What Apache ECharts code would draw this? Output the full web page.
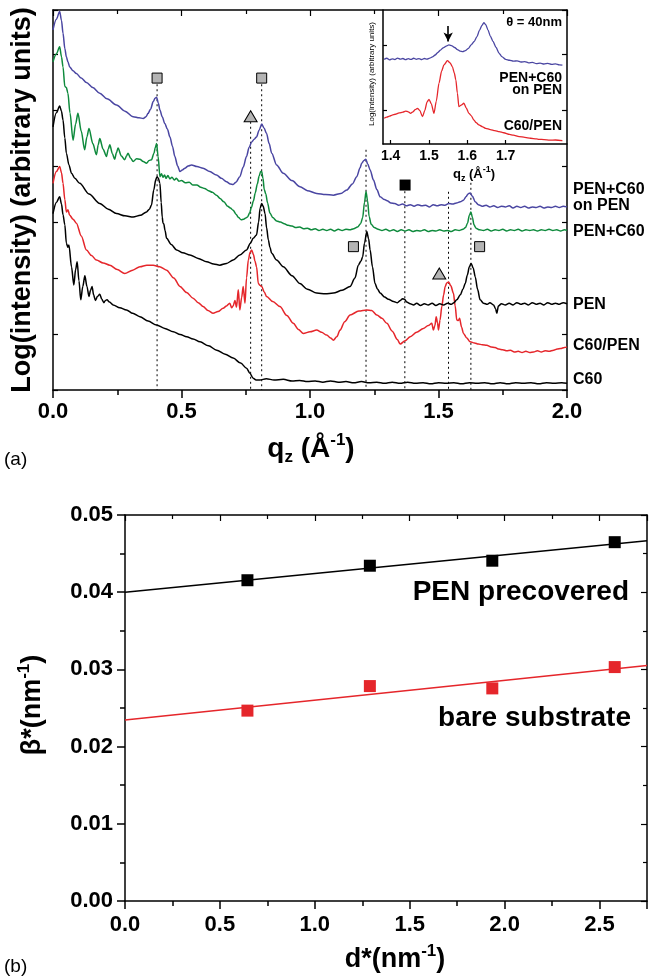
<!DOCTYPE html>
<html>
<head>
<meta charset="utf-8">
<script src="https://cdn.jsdelivr.net/npm/echarts@6/dist/echarts.min.js"></script>
<style>
  html, body { margin: 0; padding: 0; background: #fff; }
  #chart { width: 650px; height: 980px; }
</style>
</head>
<body>
<div id="chart"></div>
<script>
// ---------- (a) specular X-ray reflectivity, log intensity vs q_z (Å^-1), curves offset vertically ----------
const qTicksMain = [0.0, 0.5, 1.0, 1.5, 2.0];

const curvePenC60OnPen = [
  [0,6.43],[0.013,6.62],[0.026,6.76],[0.033,6.6],[0.039,6.37],[0.046,6.1],[0.052,5.95],[0.058,5.86],[0.065,5.77],
  [0.078,5.70],[0.091,5.65],[0.11,5.57],[0.13,5.49],[0.155,5.40],[0.182,5.30],[0.21,5.20],[0.247,5.09],[0.28,4.98],
  [0.312,4.88],[0.335,4.86],[0.351,4.85],[0.362,4.88],[0.37,4.94],[0.38,5.02],[0.39,5.15],[0.397,5.21],[0.403,5.23],
  [0.41,5.12],[0.416,5.0],[0.425,4.88],[0.435,4.76],[0.445,4.66],[0.455,4.52],[0.465,4.35],[0.474,4.17],[0.485,4.0],
  [0.494,3.90],[0.503,3.93],[0.513,3.96],[0.526,4.0],[0.539,4.02],[0.56,3.99],[0.584,3.96],[0.61,3.90],[0.636,3.84],
  [0.655,3.78],[0.675,3.72],[0.69,3.68],[0.701,3.67],[0.712,3.71],[0.727,3.81],[0.74,3.98],[0.753,4.17],[0.763,4.33],
  [0.773,4.43],[0.783,4.48],[0.792,4.52],[0.802,4.64],[0.812,4.75],[0.821,4.68],[0.831,4.58],[0.841,4.40],[0.851,4.23],
  [0.87,4.02],[0.896,3.87],[0.93,3.74],[0.961,3.63],[0.99,3.56],[1.026,3.51],[1.06,3.49],[1.091,3.48],[1.12,3.51],
  [1.143,3.57],[1.165,3.68],[1.182,3.81],[1.195,3.97],[1.201,4.05],[1.21,4.10],[1.217,4.12],[1.225,4.03],[1.234,3.93],
  [1.247,3.75],[1.26,3.58],[1.273,3.45],[1.29,3.40],[1.30,3.38],[1.315,3.34],[1.33,3.33],[1.345,3.30],[1.36,3.32],
  [1.375,3.29],[1.39,3.31],[1.405,3.28],[1.42,3.31],[1.435,3.29],[1.45,3.30],[1.465,3.27],[1.48,3.31],[1.495,3.29],
  [1.51,3.31],[1.525,3.30],[1.54,3.33],[1.555,3.32],[1.57,3.34],[1.585,3.36],[1.597,3.39],[1.607,3.45],[1.615,3.50],
  [1.623,3.52],[1.632,3.46],[1.643,3.36],[1.655,3.31],[1.67,3.28],[1.685,3.30],[1.70,3.27],[1.715,3.29],[1.73,3.26],
  [1.745,3.28],[1.76,3.27],[1.775,3.29],[1.79,3.25],[1.805,3.28],[1.82,3.26],[1.835,3.28],[1.85,3.25],[1.865,3.27],
  [1.88,3.26],[1.895,3.28],[1.91,3.25],[1.925,3.27],[1.94,3.26],[1.955,3.28],[1.97,3.26],[1.985,3.28],[2.0,3.27]
];

const curvePenC60 = [
  [0,5.86],[0.013,6.0],[0.026,6.13],[0.033,5.95],[0.039,5.77],[0.046,5.42],[0.052,5.40],[0.058,5.30],[0.066,4.95],
  [0.078,4.46],[0.088,4.75],[0.097,4.94],[0.11,4.62],[0.123,4.29],[0.132,4.52],[0.140,4.67],[0.155,4.40],[0.169,4.20],
  [0.176,4.38],[0.182,4.49],[0.195,4.30],[0.208,4.17],[0.215,4.30],[0.221,4.38],[0.231,4.22],[0.240,4.12],[0.247,4.24],
  [0.253,4.32],[0.266,4.18],[0.279,4.11],[0.286,4.18],[0.292,4.23],[0.302,4.14],[0.312,4.08],[0.325,4.13],[0.338,4.12],
  [0.351,4.08],[0.364,4.05],[0.374,4.10],[0.383,4.11],[0.393,4.23],[0.398,4.33],[0.403,4.40],[0.409,4.17],[0.416,3.81],
  [0.422,3.86],[0.428,3.80],[0.434,3.84],[0.44,3.78],[0.447,3.83],[0.455,3.77],[0.463,3.80],[0.472,3.75],[0.48,3.78],
  [0.49,3.73],[0.50,3.74],[0.515,3.70],[0.53,3.71],[0.545,3.66],[0.56,3.66],[0.575,3.62],[0.59,3.60],[0.605,3.56],
  [0.62,3.53],[0.636,3.48],[0.65,3.42],[0.665,3.36],[0.68,3.28],[0.69,3.25],[0.701,3.21],[0.712,3.14],[0.722,3.08],
  [0.732,3.04],[0.742,3.05],[0.75,3.07],[0.757,3.09],[0.765,3.16],[0.772,3.26],[0.78,3.38],[0.787,3.52],[0.795,3.68],
  [0.802,3.82],[0.808,3.90],[0.812,3.90],[0.817,3.78],[0.822,3.58],[0.828,3.50],[0.835,3.34],[0.844,3.16],[0.855,3.08],
  [0.87,3.02],[0.885,3.00],[0.9,2.97],[0.915,2.94],[0.93,2.93],[0.945,2.90],[0.96,2.91],[0.975,2.88],[0.99,2.89],
  [1.005,2.86],[1.02,2.88],[1.035,2.85],[1.05,2.87],[1.065,2.85],[1.08,2.87],[1.095,2.84],[1.11,2.87],[1.125,2.85],
  [1.14,2.87],[1.155,2.86],[1.17,2.88],[1.185,2.91],[1.197,2.97],[1.205,3.08],[1.212,3.35],[1.218,3.54],[1.224,3.38],
  [1.23,3.10],[1.238,2.96],[1.25,2.90],[1.265,2.87],[1.28,2.85],[1.295,2.87],[1.31,2.84],[1.325,2.86],[1.34,2.83],
  [1.355,2.86],[1.37,2.84],[1.385,2.86],[1.40,2.83],[1.415,2.85],[1.43,2.84],[1.445,2.86],[1.46,2.83],[1.475,2.85],
  [1.49,2.84],[1.505,2.86],[1.52,2.84],[1.535,2.85],[1.55,2.83],[1.565,2.86],[1.58,2.85],[1.595,2.87],[1.605,2.90],
  [1.613,2.98],[1.62,3.12],[1.626,3.18],[1.632,3.08],[1.638,2.95],[1.646,2.89],[1.66,2.86],[1.675,2.85],[1.69,2.87],
  [1.705,2.84],[1.72,2.86],[1.735,2.85],[1.75,2.87],[1.765,2.84],[1.78,2.86],[1.795,2.85],[1.81,2.87],[1.825,2.84],
  [1.84,2.86],[1.855,2.85],[1.87,2.86],[1.885,2.84],[1.9,2.86],[1.915,2.85],[1.93,2.87],[1.945,2.85],[1.96,2.86],
  [1.975,2.84],[1.99,2.86],[2.0,2.85]
];

const curvePen = [
  [0,4.70],[0.013,4.95],[0.026,5.07],[0.033,4.98],[0.039,4.82],[0.046,4.5],[0.052,4.23],[0.062,4.02],[0.072,3.87],
  [0.085,3.78],[0.104,3.69],[0.14,3.50],[0.182,3.33],[0.215,3.23],[0.247,3.15],[0.28,3.11],[0.312,3.09],[0.34,3.12],
  [0.364,3.18],[0.375,3.23],[0.383,3.30],[0.392,3.57],[0.40,3.76],[0.405,3.81],[0.41,3.78],[0.416,3.69],[0.421,3.35],
  [0.425,3.09],[0.428,2.98],[0.431,2.97],[0.436,2.85],[0.442,2.71],[0.46,2.60],[0.481,2.50],[0.505,2.45],[0.533,2.41],
  [0.565,2.35],[0.598,2.29],[0.625,2.25],[0.649,2.23],[0.675,2.26],[0.701,2.32],[0.727,2.41],[0.753,2.50],[0.768,2.62],
  [0.779,2.71],[0.792,2.77],[0.80,3.0],[0.806,3.25],[0.812,3.33],[0.818,3.28],[0.825,3.15],[0.831,2.90],[0.838,2.68],
  [0.844,2.55],[0.851,2.44],[0.87,2.32],[0.896,2.20],[0.93,2.04],[0.961,1.90],[0.99,1.80],[1.026,1.73],[1.06,1.72],
  [1.091,1.73],[1.125,1.78],[1.156,1.85],[1.175,2.0],[1.188,2.23],[1.198,2.30],[1.205,2.38],[1.212,2.62],[1.221,2.83],
  [1.228,2.70],[1.234,2.50],[1.243,2.20],[1.253,1.90],[1.263,1.80],[1.273,1.73],[1.29,1.66],[1.305,1.62],[1.325,1.58],
  [1.34,1.56],[1.352,1.60],[1.36,1.63],[1.368,1.62],[1.376,1.57],[1.39,1.54],[1.403,1.52],[1.415,1.55],[1.43,1.51],
  [1.445,1.54],[1.46,1.52],[1.475,1.55],[1.49,1.51],[1.505,1.54],[1.52,1.52],[1.535,1.55],[1.55,1.53],[1.56,1.56],
  [1.571,1.61],[1.585,1.70],[1.595,1.80],[1.604,1.90],[1.612,2.05],[1.62,2.20],[1.627,2.26],[1.635,2.18],[1.643,2.02],
  [1.652,1.80],[1.662,1.61],[1.675,1.55],[1.69,1.53],[1.70,1.56],[1.714,1.52],[1.722,1.45],[1.727,1.37],[1.733,1.50],
  [1.745,1.54],[1.76,1.52],[1.775,1.55],[1.79,1.52],[1.805,1.56],[1.82,1.53],[1.835,1.55],[1.85,1.52],[1.865,1.56],
  [1.88,1.53],[1.895,1.55],[1.91,1.52],[1.925,1.56],[1.94,1.53],[1.955,1.55],[1.97,1.53],[1.985,1.56],[2.0,1.54]
];

const curveC60OnPen = [
  [0,3.69],[0.013,3.9],[0.026,3.99],[0.033,3.88],[0.039,3.69],[0.046,3.4],[0.052,3.18],[0.058,3.22],[0.065,3.12],
  [0.078,3.05],[0.091,2.98],[0.11,2.75],[0.13,2.50],[0.15,2.40],[0.169,2.32],[0.195,2.27],[0.221,2.23],[0.25,2.15],
  [0.279,2.08],[0.31,2.14],[0.338,2.20],[0.365,2.23],[0.39,2.23],[0.415,2.20],[0.442,2.14],[0.47,2.00],[0.494,1.85],
  [0.52,1.74],[0.545,1.64],[0.565,1.56],[0.584,1.49],[0.603,1.42],[0.623,1.37],[0.642,1.40],[0.662,1.46],[0.675,1.50],
  [0.688,1.55],[0.695,1.47],[0.701,1.50],[0.708,1.60],[0.714,1.48],[0.721,1.79],[0.727,1.43],[0.734,1.65],[0.740,1.85],
  [0.747,1.55],[0.753,2.0],[0.760,2.32],[0.767,2.46],[0.773,2.5],[0.78,2.42],[0.786,2.30],[0.792,2.20],[0.799,1.90],
  [0.805,1.87],[0.812,1.85],[0.822,1.75],[0.831,1.67],[0.855,1.58],[0.883,1.49],[0.91,1.33],[0.935,1.19],[0.955,1.08],
  [0.974,1.01],[1.0,1.04],[1.026,1.07],[1.045,1.03],[1.065,0.98],[1.08,0.93],[1.091,0.89],[1.104,0.95],[1.117,1.07],
  [1.135,1.22],[1.156,1.34],[1.19,1.41],[1.221,1.43],[1.24,1.42],[1.26,1.34],[1.28,1.28],[1.299,1.19],[1.32,1.05],
  [1.34,0.90],[1.351,0.82],[1.37,0.88],[1.39,0.95],[1.415,1.03],[1.441,1.10],[1.46,1.15],[1.474,1.19],[1.48,1.07],
  [1.486,1.15],[1.491,1.31],[1.496,1.20],[1.500,1.07],[1.506,1.25],[1.513,1.49],[1.52,1.70],[1.526,1.85],[1.532,1.91],
  [1.539,1.93],[1.548,1.86],[1.558,1.73],[1.565,1.50],[1.571,1.25],[1.577,1.24],[1.582,1.28],[1.59,1.12],[1.597,1.01],
  [1.61,0.93],[1.623,0.86],[1.64,0.84],[1.655,0.82],[1.67,0.81],[1.688,0.80],[1.705,0.77],[1.72,0.76],[1.735,0.73],
  [1.75,0.72],[1.766,0.70],[1.78,0.71],[1.795,0.68],[1.81,0.69],[1.825,0.67],[1.84,0.69],[1.855,0.67],[1.87,0.68],
  [1.885,0.70],[1.90,0.68],[1.915,0.70],[1.93,0.69],[1.948,0.71],[1.962,0.73],[1.975,0.74],[1.99,0.76],[2.0,0.77]
];

const curveC60 = [
  [0,3.15],[0.013,3.35],[0.026,3.45],[0.033,3.32],[0.039,3.13],[0.046,2.95],[0.052,2.62],[0.058,2.55],[0.062,2.59],
  [0.072,2.2],[0.081,1.875],[0.088,2.15],[0.094,2.29],[0.101,1.95],[0.108,1.61],[0.116,1.85],[0.124,2.04],[0.132,1.85],
  [0.140,1.67],[0.146,1.78],[0.152,1.85],[0.158,1.70],[0.165,1.60],[0.173,1.67],[0.182,1.71],[0.19,1.62],[0.198,1.56],
  [0.204,1.60],[0.210,1.61],[0.22,1.57],[0.234,1.52],[0.26,1.47],[0.286,1.43],[0.31,1.37],[0.338,1.31],[0.37,1.23],
  [0.403,1.16],[0.435,1.10],[0.468,1.04],[0.495,0.99],[0.520,0.95],[0.545,0.91],[0.572,0.86],[0.605,0.79],[0.637,0.71],
  [0.67,0.64],[0.701,0.57],[0.73,0.48],[0.753,0.39],[0.766,0.30],[0.779,0.21],[0.79,0.18],[0.805,0.18],[0.83,0.20],
  [0.86,0.18],[0.896,0.19],[0.93,0.16],[0.96,0.17],[0.99,0.15],[1.02,0.16],[1.05,0.14],[1.08,0.16],[1.11,0.14],
  [1.14,0.15],[1.17,0.13],[1.20,0.15],[1.23,0.13],[1.26,0.14],[1.29,0.12],[1.32,0.14],[1.35,0.12],[1.38,0.14],
  [1.41,0.12],[1.44,0.13],[1.47,0.11],[1.50,0.13],[1.53,0.12],[1.56,0.13],[1.59,0.11],[1.62,0.13],[1.65,0.12],
  [1.68,0.13],[1.71,0.11],[1.74,0.13],[1.77,0.11],[1.80,0.13],[1.83,0.12],[1.86,0.13],[1.89,0.11],[1.92,0.13],
  [1.95,0.12],[1.98,0.13],[2.0,0.12]
];

// Bragg peak guides: [q, top of the dotted line]
const peakGuides = [[0.405,5.46],[0.769,4.79],[0.812,5.46],[1.218,4.29],[1.369,3.55],[1.539,3.54],[1.626,3.70]];
// peak markers: PEN reflections (grey squares), C60 reflections (grey triangles), extra reflection (black square)
const penMarks = [[0.405,5.57],[0.812,5.57],[1.169,2.56],[1.660,2.56]];
const c60Marks = [[0.769,4.89],[1.503,2.08]];
const extraMarks = [[1.370,3.66]];

// curve labels at the right edge: [text, offset level]
const curveLabels = [['PEN+C60', 3.57], ['on PEN', 3.30], ['PEN+C60', 2.83], ['PEN', 1.53], ['C60/PEN', 0.80], ['C60', 0.18]];

// ---------- inset: θ = 40 nm, zoom around the C60 reflection ----------
const insetTicks = [1.4, 1.5, 1.6, 1.7];
const insetPenC60OnPen = [
  [1.383,0.632],[1.39,0.640],[1.397,0.628],[1.404,0.636],[1.411,0.630],[1.418,0.641],[1.425,0.633],[1.432,0.638],
  [1.439,0.629],[1.446,0.637],[1.453,0.631],[1.46,0.640],[1.467,0.632],[1.474,0.637],[1.481,0.630],[1.488,0.638],
  [1.495,0.634],[1.502,0.641],[1.509,0.650],[1.516,0.664],[1.523,0.683],[1.53,0.701],[1.537,0.718],[1.545,0.731],
  [1.552,0.739],[1.56,0.733],[1.567,0.720],[1.574,0.705],[1.581,0.693],[1.588,0.689],[1.595,0.697],[1.602,0.712],
  [1.61,0.739],[1.618,0.765],[1.625,0.801],[1.632,0.850],[1.638,0.885],[1.643,0.905],[1.648,0.890],[1.654,0.850],
  [1.66,0.805],[1.667,0.765],[1.675,0.720],[1.683,0.677],[1.69,0.652],[1.70,0.632],[1.71,0.625],[1.72,0.618],
  [1.73,0.621],[1.74,0.612],[1.75,0.615],[1.76,0.606],[1.77,0.609],[1.78,0.600],[1.79,0.604],[1.80,0.597],
  [1.81,0.601],[1.82,0.594],[1.83,0.598],[1.84,0.591],[1.848,0.589]
];
const insetC60OnPen = [
  [1.383,0.192],[1.39,0.200],[1.397,0.208],[1.404,0.216],[1.412,0.222],[1.422,0.232],[1.432,0.238],[1.439,0.246],
  [1.446,0.240],[1.452,0.229],[1.458,0.240],[1.464,0.256],[1.470,0.266],[1.476,0.250],[1.483,0.204],[1.489,0.250],
  [1.495,0.315],[1.500,0.333],[1.506,0.300],[1.513,0.229],[1.519,0.320],[1.526,0.453],[1.533,0.545],[1.539,0.590],
  [1.548,0.622],[1.555,0.605],[1.561,0.577],[1.566,0.530],[1.570,0.478],[1.574,0.380],[1.578,0.279],[1.584,0.290],
  [1.591,0.304],[1.597,0.270],[1.604,0.229],[1.610,0.212],[1.617,0.179],[1.623,0.160],[1.630,0.142],[1.640,0.128],
  [1.648,0.117],[1.66,0.108],[1.672,0.100],[1.683,0.092],[1.695,0.084],[1.71,0.072],[1.72,0.066],[1.735,0.055],
  [1.75,0.050],[1.765,0.043],[1.78,0.038],[1.787,0.035],[1.80,0.033],[1.815,0.029],[1.83,0.030],[1.848,0.025]
];
const insetArrow = [[1.55, 0.88], [1.55, 0.765]];

// ---------- (b) Williamson-Hall: β* vs d* ----------
const dStar = [0.645, 1.29, 1.935, 2.58];
const betaPenPrecovered = [0.04155, 0.04343, 0.04408, 0.04648];
const betaBareSubstrate = [0.02466, 0.02784, 0.02754, 0.0303];
const fitPenPrecovered = [[0, 0.0400], [2.75, 0.04666]];
const fitBareSubstrate = [[0, 0.02345], [2.75, 0.0305]];

const FONT = '"Liberation Sans", Arial, Helvetica, sans-serif';
const BLUE = '#4a46a2', GREEN = '#0e8a3c', RED = '#e5262b', BLACK = '#000', GREY = '#b4b4b4';

const chart = echarts.init(document.getElementById('chart'), null, { renderer: 'canvas' });

const lineAx = { show: true, onZero: false, lineStyle: { color: '#000', width: 1.5 } };
const boldLabel = (size, extra) => Object.assign({ color: '#000', fontFamily: FONT, fontWeight: 'bold', fontSize: size }, extra || {});

function curve(data, color) {
  return {
    type: 'line', xAxisIndex: 0, yAxisIndex: 0, data, showSymbol: false, smooth: 0.3, smoothMonotone: 'x',
    lineStyle: { color, width: 1.5 }, silent: true, z: 3
  };
}

const series = [
  curve(curveC60, BLACK),
  curve(curveC60OnPen, RED),
  curve(curvePen, BLACK),
  curve(curvePenC60, GREEN),
  curve(curvePenC60OnPen, BLUE)
];

peakGuides.forEach(g => {
  series.push({
    type: 'line', xAxisIndex: 0, yAxisIndex: 0, data: [[g[0], g[1]], [g[0], 0]], showSymbol: false, silent: true,
    lineStyle: { color: '#000', width: 1, type: [2, 3] }, z: 2
  });
});

series.push({
  type: 'scatter', xAxisIndex: 0, yAxisIndex: 0, data: penMarks, symbol: 'rect', symbolSize: 10,
  itemStyle: { color: GREY, borderColor: '#000', borderWidth: 1, opacity: 1 }, z: 5, silent: true
});
series.push({
  type: 'scatter', xAxisIndex: 0, yAxisIndex: 0, data: c60Marks, symbol: 'triangle', symbolSize: [13, 11],
  itemStyle: { color: GREY, borderColor: '#000', borderWidth: 1, opacity: 1 }, z: 5, silent: true
});
series.push({
  type: 'scatter', xAxisIndex: 0, yAxisIndex: 0, data: extraMarks, symbol: 'rect', symbolSize: 11,
  itemStyle: { color: '#000', opacity: 1 }, z: 5, silent: true
});

// inset curves
series.push({
  type: 'line', xAxisIndex: 2, yAxisIndex: 2, data: insetPenC60OnPen, showSymbol: false, smooth: 0.25, smoothMonotone: 'x',
  lineStyle: { color: BLUE, width: 1.3 }, silent: true, z: 6,
  markLine: {
    silent: true, symbol: ['none', 'arrow'], symbolSize: [7, 9], label: { show: false },
    lineStyle: { color: '#000', width: 1.6, type: 'solid' },
    data: [[{ coord: insetArrow[0] }, { coord: insetArrow[1] }]]
  }
});
series.push({
  type: 'line', xAxisIndex: 2, yAxisIndex: 2, data: insetC60OnPen, showSymbol: false, smooth: 0.25, smoothMonotone: 'x',
  lineStyle: { color: RED, width: 1.3 }, silent: true, z: 6
});

// panel (b)
series.push({
  type: 'line', xAxisIndex: 3, yAxisIndex: 3, data: fitPenPrecovered, showSymbol: false, silent: true,
  lineStyle: { color: BLACK, width: 1.5 }, z: 3
});
series.push({
  type: 'line', xAxisIndex: 3, yAxisIndex: 3, data: fitBareSubstrate, showSymbol: false, silent: true,
  lineStyle: { color: RED, width: 1.5 }, z: 3
});
series.push({
  type: 'scatter', xAxisIndex: 3, yAxisIndex: 3, data: dStar.map((d, i) => [d, betaPenPrecovered[i]]),
  symbol: 'rect', symbolSize: 12, itemStyle: { color: BLACK, opacity: 1 }, z: 5, silent: true
});
series.push({
  type: 'scatter', xAxisIndex: 3, yAxisIndex: 3, data: dStar.map((d, i) => [d, betaBareSubstrate[i]]),
  symbol: 'rect', symbolSize: 12, itemStyle: { color: RED, opacity: 1 }, z: 5, silent: true
});

// text helpers
function text(x, y, str, size, opts) {
  return Object.assign({
    type: 'text', x, y, silent: true, z: 20,
    style: Object.assign({
      text: str, fill: '#000', fontFamily: FONT, fontWeight: 'bold', fontSize: size,
      align: 'left', verticalAlign: 'middle'
    }, (opts && opts.style) || {})
  }, (opts && opts.el) || {});
}
function richTitle(x, y, str, size, sub, lh, rotation) {
  return {
    type: 'text', x, y, rotation: rotation || 0, silent: true, z: 20,
    style: {
      text: str, align: 'center', verticalAlign: 'middle', fill: '#000',
      rich: {
        b: { fontFamily: FONT, fontWeight: 'bold', fontSize: size, lineHeight: lh, fill: '#000' },
        s: { fontFamily: FONT, fontWeight: 'bold', fontSize: sub, verticalAlign: 'bottom', fill: '#000' },
        p: { fontFamily: FONT, fontWeight: 'bold', fontSize: sub, verticalAlign: 'top', fill: '#000' }
      }
    }
  };
}

const Y0 = 390, PX_PER_LEVEL = 56; // panel (a) vertical scale used to place the right-edge labels
const graphics = [
  // axis titles, panel (a)
  text(23, 200, 'Log(intensity) (arbitrary units)', 27, { style: { align: 'center' }, el: { rotation: Math.PI / 2 } }),
  richTitle(311, 449, '{b|q}{s|z}{b| (Å}{p|-1}{b|)}', 28, 17, 34),
  text(4, 460, '(a)', 19, { style: { fontWeight: 'normal' } }),
  // inset texts
  text(562, 22, 'θ = 40nm', 13, { style: { align: 'right' } }),
  text(562, 78, 'PEN+C60', 14, { style: { align: 'right' } }),
  text(562, 90, 'on PEN', 14, { style: { align: 'right' } }),
  text(562, 126, 'C60/PEN', 14, { style: { align: 'right' } }),
  text(372, 74, 'Log(intensity) (arbitrary units)', 8, { style: { align: 'center', fontWeight: 'normal' }, el: { rotation: Math.PI / 2 } }),
  richTitle(474, 174, '{b|q}{s|z}{b| (Å}{p|-1}{b|)}', 13, 9, 18),
  // panel (b)
  text(629, 592, 'PEN precovered', 28, { style: { align: 'right' } }),
  text(631, 718, 'bare substrate', 28, { style: { align: 'right' } }),
  richTitle(33, 705, '{b|β*(nm}{p|-1}{b|)}', 27, 17, 34, Math.PI / 2),
  richTitle(395, 960, '{b|d*(nm}{p|-1}{b|)}', 27, 17, 34),
  text(4, 967, '(b)', 19, { style: { fontWeight: 'normal' } })
];
curveLabels.forEach(l => {
  graphics.push(text(573, Y0 - l[1] * PX_PER_LEVEL, l[0], 16));
});

const option = {
  backgroundColor: '#fff',
  animation: false,
  grid: [
    { left: 53, top: 10, width: 514, height: 380 },
    { left: 383, top: 10, width: 184, height: 134, show: true, backgroundColor: '#fff', borderWidth: 0 },
    { left: 125, top: 515, width: 522, height: 386 }
  ],
  xAxis: [
    { // 0: panel (a) bottom
      gridIndex: 0, type: 'value', min: 0, max: 2, interval: 0.5,
      axisLine: lineAx, splitLine: { show: false },
      axisTick: { show: true, inside: false, length: 8, lineStyle: { color: '#000', width: 1.5 } },
      minorTick: { show: true, splitNumber: 2, length: 5, lineStyle: { color: '#000', width: 1.5 } },
      axisLabel: boldLabel(22, { margin: 11, formatter: v => qTicksMain.includes(v) ? v.toFixed(1) : '' })
    },
    { // 1: panel (a) top mirror
      gridIndex: 0, type: 'value', position: 'top', min: 0, max: 2, interval: 0.5,
      axisLine: lineAx, splitLine: { show: false },
      axisTick: { show: true, inside: true, length: 6, lineStyle: { color: '#000', width: 1.2 } },
      minorTick: { show: true, splitNumber: 2, length: 4, lineStyle: { color: '#000', width: 1.2 } },
      axisLabel: { show: false }
    },
    { // 2: inset
      gridIndex: 1, type: 'value', min: 1.38, max: 1.86,
      axisLine: lineAx, splitLine: { show: false },
      axisTick: { show: true, inside: true, length: 4, customValues: insetTicks, lineStyle: { color: '#000', width: 1.2 } },
      axisLabel: boldLabel(14, { margin: 5, customValues: insetTicks, formatter: v => v.toFixed(1) })
    },
    { // 3: panel (b) bottom
      gridIndex: 2, type: 'value', min: 0, max: 2.75, interval: 0.5,
      axisLine: lineAx, splitLine: { show: false },
      axisTick: { show: true, inside: false, length: 8, lineStyle: { color: '#000', width: 1.5 } },
      minorTick: { show: true, splitNumber: 2, length: 5, lineStyle: { color: '#000', width: 1.5 } },
      axisLabel: boldLabel(22, { margin: 13, showMaxLabel: false, formatter: v => v.toFixed(1) })
    },
    { // 4: panel (b) top mirror
      gridIndex: 2, type: 'value', position: 'top', min: 0, max: 2.75, interval: 0.5,
      axisLine: lineAx, splitLine: { show: false },
      axisTick: { show: true, inside: true, length: 6, lineStyle: { color: '#000', width: 1.2 } },
      minorTick: { show: true, splitNumber: 2, length: 4, lineStyle: { color: '#000', width: 1.2 } },
      axisLabel: { show: false }
    }
  ],
  yAxis: [
    { // 0: panel (a) left
      gridIndex: 0, type: 'value', min: 0, max: 6.786, interval: 1,
      axisLine: lineAx, splitLine: { show: false },
      axisTick: { show: true, inside: true, length: 5, lineStyle: { color: '#000', width: 1.2 } },
      axisLabel: { show: false }
    },
    { // 1: panel (a) right mirror
      gridIndex: 0, type: 'value', position: 'right', min: 0, max: 6.786, interval: 1,
      axisLine: lineAx, splitLine: { show: false },
      axisTick: { show: true, inside: true, length: 5, lineStyle: { color: '#000', width: 1.2 } },
      axisLabel: { show: false }
    },
    { // 2: inset
      gridIndex: 1, type: 'value', min: 0, max: 1,
      axisLine: lineAx, splitLine: { show: false },
      axisTick: { show: true, inside: true, length: 4, customValues: [0.254, 0.739], lineStyle: { color: '#000', width: 1.2 } },
      axisLabel: { show: false }
    },
    { // 3: panel (b) left
      gridIndex: 2, type: 'value', min: 0, max: 0.05, interval: 0.01,
      axisLine: lineAx, splitLine: { show: false },
      axisTick: { show: true, inside: false, length: 8, lineStyle: { color: '#000', width: 1.5 } },
      minorTick: { show: true, splitNumber: 2, length: 5, lineStyle: { color: '#000', width: 1.5 } },
      axisLabel: boldLabel(22, { margin: 12, formatter: v => v.toFixed(2) })
    },
    { // 4: panel (b) right mirror
      gridIndex: 2, type: 'value', position: 'right', min: 0, max: 0.05, interval: 0.01,
      axisLine: lineAx, splitLine: { show: false },
      axisTick: { show: true, inside: true, length: 6, lineStyle: { color: '#000', width: 1.2 } },
      minorTick: { show: true, splitNumber: 2, length: 4, lineStyle: { color: '#000', width: 1.2 } },
      axisLabel: { show: false }
    }
  ],
  graphic: graphics,
  series
};

chart.setOption(option);
</script>
</body>
</html>
